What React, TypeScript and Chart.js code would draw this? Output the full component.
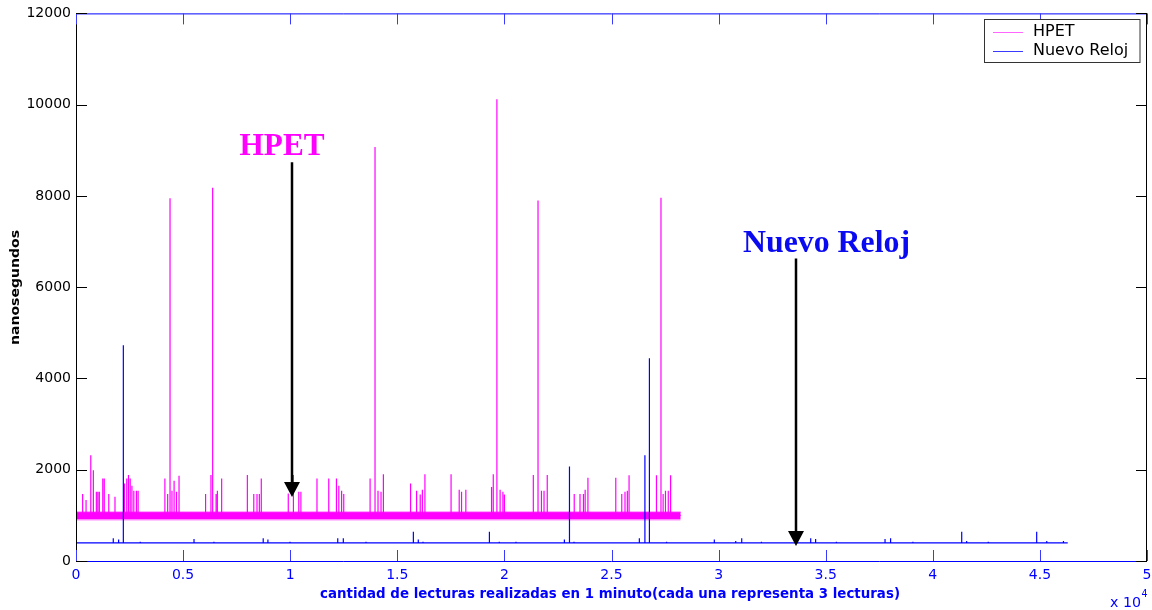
import React, { useEffect, useRef } from "react";
import { Chart, registerables } from "chart.js";

Chart.register(...registerables);

// ---------- data ----------
const seriesNames = ["HPET", "Nuevo Reloj"];
const seriesColors = ["#ff00ff", "#0000ff"];
const legendLineColors = ["#ff66ff", "#3a3aff"];

const xTickValues = [0, 0.5, 1, 1.5, 2, 2.5, 3, 3.5, 4, 4.5, 5]; // x 10^4
const yTickValues = [0, 2000, 4000, 6000, 8000, 10000, 12000];
const xAxisTitle = "cantidad de lecturas realizadas en 1 minuto(cada una representa 3 lecturas)";
const yAxisTitle = "nanosegundos";
const xExponentBase = "x 10";
const xExponent = "4";

// HPET: dense band around 1000 ns up to ~2.82e4 readings, with spikes
const hpetEndX = 2.823;
const hpetBase = 1000;
const hpetBandHigh = 1070;
const hpetBandLow = 915;
const hpetDipLow = 885;
const hpetSpikeX = [
  0.031, 0.047, 0.069, 0.081, 0.095, 0.102, 0.109, 0.125, 0.132, 0.153, 0.182,
  0.226, 0.237, 0.245, 0.253, 0.261, 0.27, 0.282, 0.29, 0.415, 0.428, 0.439,
  0.448, 0.458, 0.469, 0.481, 0.605, 0.63, 0.638, 0.654, 0.66, 0.68, 0.8, 0.83,
  0.845, 0.856, 0.865, 0.991, 1.015, 1.04, 1.05, 1.125, 1.18, 1.216, 1.227,
  1.24, 1.25, 1.373, 1.396, 1.41, 1.424, 1.435, 1.562, 1.59, 1.607, 1.617,
  1.629, 1.751, 1.789, 1.8, 1.82, 1.94, 1.948, 1.965, 1.98, 1.993, 2.0, 2.135,
  2.157, 2.173, 2.185, 2.2, 2.326, 2.353, 2.369, 2.377, 2.39, 2.52, 2.548,
  2.563, 2.574, 2.582, 2.71, 2.731, 2.741, 2.752, 2.765, 2.776,
];
const hpetSpikeY = [
  1467, 1335, 2320, 1990, 1518, 1518, 1518, 1810, 1810, 1467, 1410,
  1700, 1810, 1883, 1810, 1650, 1540, 1540, 1540, 1810, 1467, 7950,
  1540, 1760, 1518, 1870, 1467, 1883, 8180, 1467, 1540, 1810, 1883, 1467,
  1467, 1467, 1810, 1480, 1883, 1518, 1518, 1810, 1810, 1810, 1650,
  1540, 1467, 1810, 9070, 1540, 1520, 1900, 1700, 1540, 1460, 1560,
  1900, 1900, 1560, 1520, 1560, 1620, 1900, 10120, 1560, 1520, 1460, 1883,
  7900, 1540, 1540, 1883, 1467, 1467, 1467, 1560, 1825, 1825, 1467,
  1515, 1540, 1880, 1880, 7960, 1467, 1540, 1540, 1880,
];

// Nuevo Reloj: flat around 400 ns up to ~4.63e4 readings, with spikes
const relojEndX = 4.63;
const relojBase = 395;
const relojSpikeX = [
  0.174, 0.199, 0.221, 0.3, 0.551, 0.644, 0.874, 0.896, 0.999, 1.222, 1.248,
  1.354, 1.575, 1.598, 1.62, 1.93, 1.976, 2.054, 2.28, 2.302, 2.305, 2.325,
  2.63, 2.656, 2.677, 2.757, 2.98, 3.08, 3.108, 3.2, 3.43, 3.453, 3.55, 3.777,
  3.803, 3.907, 4.135, 4.158, 4.259, 4.485, 4.532, 4.61,
];
const relojSpikeY = [
  497, 470, 4730, 420, 480, 420, 497, 470, 420, 497, 497,
  420, 640, 470, 420, 640, 420, 420, 470, 2070, 1226, 420,
  497, 2320, 4445, 420, 470, 440, 497, 420, 497, 480, 420, 480,
  497, 420, 640, 440, 420, 640, 440, 440,
];

// callouts
const calloutText = ["HPET", "Nuevo Reloj"];
const calloutTextX = [0.962, 3.504];
const calloutTextY = [8900, 6766];
const calloutArrowX = [1.008, 3.36];
const calloutArrowTop = [8740, 6630];
const calloutArrowTip = [1400, 330];

// ---------- helpers ----------
type Pt = { x: number; y: number };

function spikeSeries(xs: number[], ys: number[], base: number, endX: number): Pt[] {
  const pts: Pt[] = [{ x: 0, y: base }];
  xs.forEach((x, i) => {
    pts.push({ x, y: base }, { x, y: ys[i] }, { x, y: base });
  });
  pts.push({ x: endX, y: base });
  return pts;
}

function flat(value: number, endX: number): Pt[] {
  return [
    { x: 0, y: value },
    { x: endX, y: value },
  ];
}

function fitText(
  ctx: CanvasRenderingContext2D,
  text: string,
  x: number,
  y: number,
  font: string,
  width: number,
  align: CanvasTextAlign,
  color: string
) {
  ctx.save();
  ctx.font = font;
  ctx.fillStyle = color;
  ctx.textBaseline = "alphabetic";
  const w = ctx.measureText(text).width;
  ctx.translate(x, y);
  ctx.scale(width / w, 1);
  ctx.textAlign = align;
  ctx.fillText(text, 0, 0);
  ctx.restore();
}

const decorPlugin = {
  id: "decor",
  afterDraw(chart: any) {
    const ctx: CanvasRenderingContext2D = chart.ctx;
    const xs = chart.scales.x;
    const ys = chart.scales.y;
    const { left, right, top, bottom } = chart.chartArea;

    ctx.save();
    // frame
    ctx.lineWidth = 1;
    ctx.strokeStyle = "#0000ff";
    ctx.beginPath();
    ctx.moveTo(left, bottom + 0.5);
    ctx.lineTo(right, bottom + 0.5);
    ctx.moveTo(left, top + 0.5);
    ctx.lineTo(right, top + 0.5);
    ctx.stroke();
    ctx.strokeStyle = "#000000";
    ctx.beginPath();
    ctx.moveTo(left + 0.5, top);
    ctx.lineTo(left + 0.5, bottom + 1);
    ctx.moveTo(right - 0.5, top);
    ctx.lineTo(right - 0.5, bottom + 1);
    ctx.stroke();

    // x ticks (inward, bottom and top)
    ctx.strokeStyle = "#3a3aff";
    ctx.beginPath();
    xTickValues.forEach((v) => {
      const px = Math.round(xs.getPixelForValue(v)) + 0.5;
      ctx.moveTo(px, bottom);
      ctx.lineTo(px, bottom - 11);
      ctx.moveTo(px, top);
      ctx.lineTo(px, top + 11);
    });
    ctx.stroke();
    // y ticks (inward, left and right)
    ctx.strokeStyle = "#000000";
    ctx.beginPath();
    yTickValues.forEach((v) => {
      const py = Math.round(ys.getPixelForValue(v)) + 0.5;
      ctx.moveTo(left, py);
      ctx.lineTo(left + 11, py);
      ctx.moveTo(right, py);
      ctx.lineTo(right - 11, py);
    });
    ctx.stroke();

    // axis titles
    fitText(ctx, xAxisTitle, 610, 598, "bold 14px 'DejaVu Sans'", 580, "center", "#0000ff");
    fitText(ctx, xExponentBase, 1110, 607, "14px 'DejaVu Sans'", 31, "left", "#0000ff");
    fitText(ctx, xExponent, 1141.5, 597, "11px 'DejaVu Sans'", 6, "left", "#0000ff");
    ctx.save();
    ctx.translate(18.5, 287.5);
    ctx.rotate(-Math.PI / 2);
    ctx.font = "bold 13px 'DejaVu Sans'";
    const yw = ctx.measureText(yAxisTitle).width;
    ctx.scale(115 / yw, 1);
    ctx.textAlign = "center";
    ctx.textBaseline = "alphabetic";
    ctx.fillStyle = "#000000";
    ctx.fillText(yAxisTitle, 0, 0);
    ctx.restore();

    // callouts
    const calloutWidths = [85, 167];
    calloutText.forEach((t, i) => {
      const tx = xs.getPixelForValue(calloutTextX[i]);
      const ty = ys.getPixelForValue(calloutTextY[i]);
      fitText(ctx, t, tx, ty, "bold 32px 'Liberation Serif'", calloutWidths[i], "center", i === 0 ? "#ff00ff" : "#0a0af0");
      const ax = Math.round(xs.getPixelForValue(calloutArrowX[i]));
      const aTop = ys.getPixelForValue(calloutArrowTop[i]);
      const aTip = ys.getPixelForValue(calloutArrowTip[i]);
      ctx.strokeStyle = "#000000";
      ctx.lineWidth = 2.5;
      ctx.beginPath();
      ctx.moveTo(ax, aTop);
      ctx.lineTo(ax, aTip - 14);
      ctx.stroke();
      ctx.fillStyle = "#000000";
      ctx.beginPath();
      ctx.moveTo(ax - 8, aTip - 15);
      ctx.lineTo(ax + 8, aTip - 15);
      ctx.lineTo(ax, aTip);
      ctx.closePath();
      ctx.fill();
    });

    // legend
    const lx = 984.5;
    const ly = 19.5;
    ctx.fillStyle = "#ffffff";
    ctx.fillRect(lx, ly, 155.5, 43);
    ctx.lineWidth = 1;
    ctx.strokeStyle = "#333333";
    ctx.strokeRect(lx, ly, 155.5, 43);
    seriesNames.forEach((name, i) => {
      const yy = 31.5 + i * 19.5;
      ctx.strokeStyle = legendLineColors[i];
      ctx.lineWidth = 1;
      ctx.beginPath();
      ctx.moveTo(993, Math.round(yy) + 0.5);
      ctx.lineTo(1023, Math.round(yy) + 0.5);
      ctx.stroke();
      ctx.fillStyle = "#000000";
      ctx.font = "16px 'DejaVu Sans'";
      ctx.textAlign = "left";
      ctx.textBaseline = "middle";
      ctx.fillText(name, 1033, yy);
    });
    ctx.restore();
  },
};

export default function App() {
  const ref = useRef<HTMLCanvasElement | null>(null);

  useEffect(() => {
    if (!ref.current) return;
    const chart = new Chart(ref.current, {
      type: "line",
      data: {
        datasets: [
          {
            label: seriesNames[1],
            data: spikeSeries(relojSpikeX, relojSpikeY, relojBase, relojEndX),
            borderColor: seriesColors[1],
            borderWidth: 1.2,
            pointRadius: 0,
            tension: 0,
            fill: false,
            order: 0,
          },
          {
            label: seriesNames[0],
            data: spikeSeries(hpetSpikeX, hpetSpikeY, hpetBase, hpetEndX),
            borderColor: seriesColors[0],
            borderWidth: 1.2,
            pointRadius: 0,
            tension: 0,
            fill: false,
            order: 1,
          },
          {
            label: "hpet-band-high",
            data: flat(hpetBandHigh, hpetEndX),
            borderColor: seriesColors[0],
            backgroundColor: seriesColors[0],
            borderWidth: 1,
            pointRadius: 0,
            fill: "+1",
            order: 2,
          },
          {
            label: "hpet-band-low",
            data: flat(hpetBandLow, hpetEndX),
            borderColor: "rgba(0,0,0,0)",
            backgroundColor: "rgba(255,0,255,0.45)",
            borderWidth: 0,
            pointRadius: 0,
            fill: "+1",
            order: 3,
          },
          {
            label: "hpet-dip-low",
            data: flat(hpetDipLow, hpetEndX),
            borderColor: "rgba(0,0,0,0)",
            borderWidth: 0,
            pointRadius: 0,
            fill: false,
            order: 4,
          },
        ],
      },
      options: {
        responsive: false,
        devicePixelRatio: 1,
        animation: false,
        events: [],
        layout: { padding: { left: 0, right: 0, top: 13, bottom: 0 } },
        plugins: {
          legend: { display: false },
          tooltip: { enabled: false },
        },
        scales: {
          x: {
            type: "linear",
            min: 0,
            max: 5,
            grid: { display: false, drawTicks: false },
            border: { display: false },
            afterFit: (s: any) => {
              s.height = 49;
              s.paddingLeft = 0;
              s.paddingRight = 5;
            },
            afterBuildTicks: (s: any) => {
              s.ticks = xTickValues.map((v) => ({ value: v }));
            },
            ticks: {
              color: "#0000ff",
              font: { family: "'DejaVu Sans'", size: 14 },
              padding: 6,
              maxRotation: 0,
              autoSkip: false,
              callback: (v: any) => String(v),
            },
          },
          y: {
            type: "linear",
            min: 0,
            max: 12000,
            grid: { display: false, drawTicks: false },
            border: { display: false },
            afterFit: (s: any) => {
              s.width = 76;
            },
            afterBuildTicks: (s: any) => {
              s.ticks = yTickValues.map((v) => ({ value: v }));
            },
            ticks: {
              color: "#000000",
              font: { family: "'DejaVu Sans'", size: 14 },
              padding: 5,
              callback: (v: any) => String(v),
            },
          },
        },
      },
      plugins: [decorPlugin],
    } as any);
    return () => chart.destroy();
  }, []);

  return (
    <div style={{ position: "fixed", left: 0, top: 0, width: 1152, height: 610, background: "#ffffff" }}>
      <canvas ref={ref} width={1152} height={610} style={{ display: "block", width: 1152, height: 610 }} />
    </div>
  );
}
